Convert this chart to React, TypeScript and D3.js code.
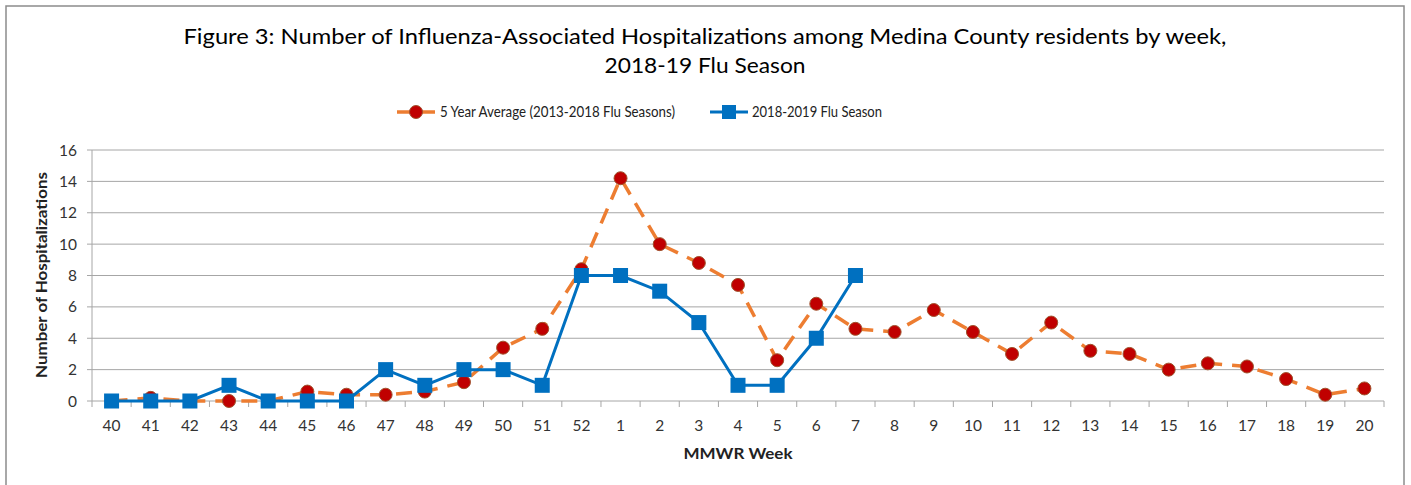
import React from "react";
import * as d3 from "d3";

const weeks = ["40","41","42","43","44","45","46","47","48","49","50","51","52","1","2","3","4","5","6","7","8","9","10","11","12","13","14","15","16","17","18","19","20"];
const avgValues = [0,0.2,0,0,0,0.6,0.4,0.4,0.6,1.2,3.4,4.6,8.4,14.2,10,8.8,7.4,2.6,6.2,4.6,4.4,5.8,4.4,3,5,3.2,3,2,2.4,2.2,1.4,0.4,0.8];
const seasonValues = [0,0,0,1,0,0,0,2,1,2,2,1,8,8,7,5,1,1,4,8];
const yTicks = [0,2,4,6,8,10,12,14,16];
const avgLabel = "5 Year Average (2013-2018 Flu Seasons)";
const seasonLabel = "2018-2019 Flu Season";

const W = 1411, H = 485;
const left = 92, right = 1384, top = 150, bottom = 401;
const FONT = "Lato, 'Open Sans', sans-serif";

export default function App() {
  const x = d3.scaleBand<string>().domain(weeks).range([left, right]);
  const cx = (w: string) => (x(w) as number) + x.bandwidth() / 2;
  const y = d3.scaleLinear().domain([0, 16]).range([bottom, top]);
  const line = d3.line<number>().x((_, i) => cx(weeks[i])).y((d) => y(d));
  const boundaries = d3.range(weeks.length + 1).map((i) => left + i * x.step());

  return (
    <svg width={W} height={H} style={{ position: "absolute", left: 0, top: 0, background: "#fff" }} fontFamily={FONT}>
      <rect x={6} y={6} width={1398} height={490} fill="#fff" stroke="#8c8c8c" strokeWidth={1.5} />
      <text x={705} y={44} textAnchor="middle" fontSize={20.5} fill="#000" textLength={1043} lengthAdjust="spacingAndGlyphs">
        Figure 3: Number of Influenza-Associated Hospitalizations among Medina County residents by week,
      </text>
      <text x={705} y={73} textAnchor="middle" fontSize={20.5} fill="#000" textLength={201} lengthAdjust="spacingAndGlyphs">
        2018-19 Flu Season
      </text>

      {/* legend */}
      <line x1={397} x2={435} y1={112} y2={112} stroke="#ED7D31" strokeWidth={3.5} />
      <circle cx={416} cy={112} r={6.5} fill="#C00000" stroke="#A0522D" strokeWidth={1} />
      <text x={440} y={117} fontSize={15} fill="#222" textLength={235} lengthAdjust="spacingAndGlyphs">{avgLabel}</text>
      <line x1={710} x2={748} y1={112} y2={112} stroke="#0070C0" strokeWidth={3} />
      <rect x={722} y={105} width={14} height={14} fill="#0070C0" />
      <text x={752} y={117} fontSize={15} fill="#222" textLength={130} lengthAdjust="spacingAndGlyphs">{seasonLabel}</text>

      {/* gridlines */}
      {yTicks.filter((t) => t > 0).map((t) => (
        <line key={t} x1={left} x2={right} y1={y(t)} y2={y(t)} stroke="#a6a6a6" strokeWidth={1} />
      ))}
      {/* axes */}
      <line x1={left} x2={left} y1={top} y2={bottom} stroke="#a6a6a6" />
      <line x1={left} x2={right} y1={bottom} y2={bottom} stroke="#a6a6a6" />
      {yTicks.map((t) => (
        <g key={t}>
          <line x1={left - 5} x2={left} y1={y(t)} y2={y(t)} stroke="#a6a6a6" />
          <text x={77} y={y(t) + 5.5} textAnchor="end" fontSize={15.5} fill="#333">{t}</text>
        </g>
      ))}
      {boundaries.map((b, i) => (
        <line key={i} x1={b} x2={b} y1={bottom} y2={bottom + 6} stroke="#a6a6a6" />
      ))}
      {weeks.map((w) => (
        <text key={w} x={cx(w)} y={431} textAnchor="middle" fontSize={15.5} fill="#333">{w}</text>
      ))}
      <text x={738} y={459} textAnchor="middle" fontSize={15.5} fontWeight="bold" fill="#222" textLength={109} lengthAdjust="spacingAndGlyphs">MMWR Week</text>
      <text transform={`translate(47,275) rotate(-90)`} textAnchor="middle" fontSize={15} fontWeight="bold" fill="#222" textLength={206} lengthAdjust="spacingAndGlyphs">
        Number of Hospitalizations
      </text>

      {/* 5 year average */}
      <path d={line(avgValues) || ""} fill="none" stroke="#ED7D31" strokeWidth={3.5} strokeDasharray="16 10" />
      {avgValues.map((v, i) => (
        <circle key={i} cx={cx(weeks[i])} cy={y(v)} r={6.5} fill="#C00000" stroke="#A0522D" strokeWidth={1} />
      ))}

      {/* season */}
      <path d={line(seasonValues) || ""} fill="none" stroke="#0070C0" strokeWidth={3} />
      {seasonValues.map((v, i) => (
        <rect key={i} x={cx(weeks[i]) - 7.5} y={y(v) - 7.5} width={15} height={15} fill="#0070C0" />
      ))}
    </svg>
  );
}
